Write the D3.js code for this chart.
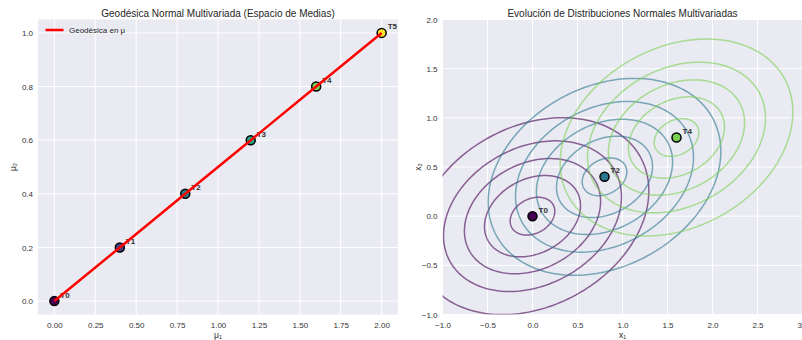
<!DOCTYPE html>
<html>
<head>
<meta charset="utf-8">
<script src="https://cdn.jsdelivr.net/npm/d3@7"></script>
<style>
  body { margin: 0; background: #fff; }
  svg { font-family: "Liberation Sans", Arial, sans-serif; }
  .tick text { fill: #333; font-size: 8px; }
</style>
</head>
<body>
<div id="viz"></div>
<script>
// --- data ---
var labels = ["T0", "T1", "T2", "T3", "T4", "T5"];
var mu1 = [0.0, 0.4, 0.8, 1.2, 1.6, 2.0];
var mu2 = [0.0, 0.2, 0.4, 0.6, 0.8, 1.0];
var pointColors = ["#440154", "#414487", "#2a788e", "#22a884", "#7ad151", "#fde725"];

// distributions drawn on the right panel (every other step)
var shownSteps = [0, 2, 4];
var covariance = [[0.5, 0.1], [0.1, 0.3]];
var densityLevels = [0.08, 0.16, 0.24, 0.32, 0.40];

var leftXTicks = [0, 0.25, 0.5, 0.75, 1.0, 1.25, 1.5, 1.75, 2.0];
var leftYTicks = [0, 0.2, 0.4, 0.6, 0.8, 1.0];
var rightXTicks = [-1, -0.5, 0, 0.5, 1, 1.5, 2, 2.5, 3];
var rightYTicks = [-1, -0.5, 0, 0.5, 1, 1.5, 2];

var SVG = d3.select("#viz").append("svg")
    .attr("width", 802)
    .attr("height", 340);

var plotTop = 19.5, plotBottom = 314.5;
var fmtMinus = function(f) { return function(d) { return f(d).replace("-", "\u2212"); }; };

function panel(x0, x1, xDomain, yDomain, xTicks, yTicks, xFmt, yFmt, title, xLabel, yLabel, clipId) {
    var x = d3.scaleLinear().domain(xDomain).range([x0, x1]);
    var y = d3.scaleLinear().domain(yDomain).range([plotBottom, plotTop]);

    SVG.append("rect")
        .attr("x", x0).attr("y", plotTop)
        .attr("width", x1 - x0).attr("height", plotBottom - plotTop)
        .style("fill", "#eaeaf2");

    // grid
    SVG.append("g").selectAll("line").data(xTicks).enter().append("line")
        .attr("x1", x).attr("x2", x).attr("y1", plotTop).attr("y2", plotBottom)
        .style("stroke", "#fff").style("stroke-width", 1);
    SVG.append("g").selectAll("line").data(yTicks).enter().append("line")
        .attr("y1", y).attr("y2", y).attr("x1", x0).attr("x2", x1)
        .style("stroke", "#fff").style("stroke-width", 1);

    var xAxis = SVG.append("g").attr("transform", "translate(0," + plotBottom + ")")
        .call(d3.axisBottom(x).tickValues(xTicks).tickFormat(xFmt).tickSize(0).tickPadding(8));
    var yAxis = SVG.append("g").attr("transform", "translate(" + x0 + ",0)")
        .call(d3.axisLeft(y).tickValues(yTicks).tickFormat(yFmt).tickSize(0).tickPadding(5));
    xAxis.select(".domain").remove();
    yAxis.select(".domain").remove();
    xAxis.attr("font-family", null);
    yAxis.attr("font-family", null);

    SVG.append("text")
        .attr("x", (x0 + x1) / 2).attr("y", 16.5)
        .attr("text-anchor", "middle")
        .style("font-size", "10px").style("fill", "#262626")
        .text(title);
    SVG.append("text")
        .attr("x", (x0 + x1) / 2).attr("y", 338)
        .attr("text-anchor", "middle")
        .style("font-size", "8.5px").style("fill", "#262626")
        .text(xLabel);
    SVG.append("text")
        .attr("transform", "translate(" + (x0 - 22) + "," + ((plotTop + plotBottom) / 2) + ") rotate(-90)")
        .attr("text-anchor", "middle")
        .style("font-size", "8.5px").style("fill", "#262626")
        .text(yLabel);

    SVG.append("clipPath").attr("id", clipId).append("rect")
        .attr("x", x0).attr("y", plotTop)
        .attr("width", x1 - x0).attr("height", plotBottom - plotTop);

    return {x: x, y: y};
}

// ---------- left panel: geodesic in mean space ----------
var L = panel(38, 398, [-0.1, 2.1], [-0.05, 1.05], leftXTicks, leftYTicks,
              d3.format(".2f"), d3.format(".1f"),
              "Geodésica Normal Multivariada (Espacio de Medias)", "μ₁", "μ₂", "clipL");

var steps = d3.range(mu1.length);
var gL = SVG.append("g").attr("clip-path", "url(#clipL)");

gL.selectAll("circle").data(steps).enter().append("circle")
    .attr("cx", function(i) { return L.x(mu1[i]); })
    .attr("cy", function(i) { return L.y(mu2[i]); })
    .attr("r", 4.5)
    .style("fill", function(i) { return pointColors[i]; })
    .style("stroke", "#000").style("stroke-width", 1.5);

gL.selectAll("text.lab").data(steps).enter().append("text")
    .attr("class", "lab")
    .attr("x", function(i) { return L.x(mu1[i]) + 6; })
    .attr("y", function(i) { return L.y(mu2[i]) - 3.5; })
    .style("font-size", "8px").style("font-weight", "bold").style("fill", "#333")
    .text(function(i) { return labels[i]; });

gL.append("path")
    .datum(steps)
    .attr("d", d3.line()
        .x(function(i) { return L.x(mu1[i]); })
        .y(function(i) { return L.y(mu2[i]); }))
    .style("fill", "none").style("stroke", "#ff0000").style("stroke-width", 2.5);

// legend
SVG.append("line")
    .attr("x1", 45.5).attr("x2", 63.5).attr("y1", 30).attr("y2", 30)
    .style("stroke", "#ff0000").style("stroke-width", 2.5);
SVG.append("text")
    .attr("x", 69).attr("y", 33)
    .style("font-size", "8px").style("fill", "#262626")
    .text("Geodésica en μ");

// ---------- right panel: density contours ----------
var R = panel(442.5, 802.5, [-1, 3], [-1, 2], rightXTicks, rightYTicks,
              fmtMinus(d3.format(".1f")), fmtMinus(d3.format(".1f")),
              "Evolución de Distribuciones Normales Multivariadas", "x₁", "x₂", "clipR");

var gR = SVG.append("g").attr("clip-path", "url(#clipR)");

// cholesky factor of the covariance, used to turn density levels into ellipses
var a = covariance[0][0], b = covariance[0][1], c = covariance[1][1];
var l11 = Math.sqrt(a), l21 = b / l11, l22 = Math.sqrt(c - l21 * l21);
var det = a * c - b * b;
var peak = 1 / (2 * Math.PI * Math.sqrt(det));
var angles = d3.range(0, 2 * Math.PI, Math.PI / 90);

function ellipse(i, level) {
    var r = Math.sqrt(-2 * Math.log(level / peak));
    return angles.map(function(t) {
        var u = r * Math.cos(t), v = r * Math.sin(t);
        return [mu1[i] + l11 * u, mu2[i] + l21 * u + l22 * v];
    });
}

var contourLine = d3.line()
    .x(function(p) { return R.x(p[0]); })
    .y(function(p) { return R.y(p[1]); })
    .curve(d3.curveLinearClosed);

shownSteps.forEach(function(i) {
    gR.append("g").selectAll("path").data(densityLevels).enter().append("path")
        .attr("d", function(lv) { return contourLine(ellipse(i, lv)); })
        .style("fill", "none")
        .style("stroke", pointColors[i])
        .style("stroke-opacity", 0.6)
        .style("stroke-width", 1.5);
});

shownSteps.forEach(function(i) {
    gR.append("circle")
        .attr("cx", R.x(mu1[i])).attr("cy", R.y(mu2[i]))
        .attr("r", 4.5)
        .style("fill", pointColors[i])
        .style("stroke", "#000").style("stroke-width", 1.5);
    gR.append("text")
        .attr("x", R.x(mu1[i]) + 6).attr("y", R.y(mu2[i]) - 3.5)
        .style("font-size", "8px").style("font-weight", "bold").style("fill", "#333")
        .text(labels[i]);
});
</script>
</body>
</html>
